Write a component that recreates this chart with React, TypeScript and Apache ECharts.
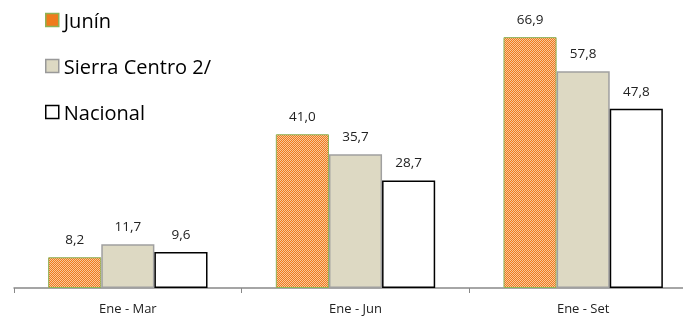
import React, { useEffect, useRef } from "react";
import * as echarts from "echarts";

const categories = ["Ene - Mar", "Ene - Jun", "Ene - Set"];
const junin = [8.2, 41.0, 66.9];
const sierra = [11.7, 35.7, 57.8];
const nacional = [9.6, 28.7, 47.8];

function makePattern(): string {
  const c = document.createElement("canvas");
  c.width = 2;
  c.height = 2;
  const ctx = c.getContext("2d")!;
  ctx.fillStyle = "#EF7B1C";
  ctx.fillRect(0, 0, 2, 2);
  ctx.fillStyle = "#F9C79C";
  ctx.fillRect(0, 0, 1, 1);
  ctx.fillRect(1, 1, 1, 1);
  return c.toDataURL();
}

const fmt = (p: any) => Number(p.value).toFixed(1).replace(".", ",");

export default function App() {
  const ref = useRef<HTMLDivElement>(null);
  useEffect(() => {
    const chart = echarts.init(ref.current!, null, { renderer: "svg" });
    const pat = { image: makePattern(), repeat: "repeat" } as any;
    const font = "'Open Sans', 'Noto Sans', sans-serif";
    const label = {
      show: true,
      position: "top",
      distance: 11,
      formatter: fmt,
      fontSize: 13.5,
      color: "#222",
      fontFamily: font,
    };
    chart.setOption({
      animation: false,
      textStyle: { fontFamily: font },
      legend: {
        orient: "vertical",
        left: 45,
        top: 10,
        padding: 0,
        itemGap: 26,
        itemWidth: 13,
        itemHeight: 13,
        icon: "rect",
        textStyle: { fontSize: 20, color: "#000", fontFamily: font },
        data: [
          { name: "Junín", itemStyle: { color: "#EF7B1C", borderColor: "#8DB255", borderWidth: 1.5 } },
          { name: "Sierra Centro 2/", itemStyle: { color: "#DDD9C3", borderColor: "#999", borderWidth: 1.5 } },
          { name: "Nacional", itemStyle: { color: "#fff", borderColor: "#000", borderWidth: 1.5 } },
        ],
      },
      grid: { left: 14, right: -14, top: 25.5, bottom: 32, outerBoundsMode: "none", containLabel: false },
      xAxis: {
        type: "category",
        data: categories,
        axisLine: { lineStyle: { color: "#888", width: 1.5 } },
        axisTick: { show: true, length: 5, lineStyle: { color: "#888" } },
        axisLabel: { fontSize: 13, color: "#222", margin: 13, fontFamily: font },
      },
      yAxis: { type: "value", min: 0, max: 70, show: false, splitLine: { show: false } },
      series: [
        {
          name: "Junín",
          type: "bar",
          data: junin,
          barGap: "0%",
          barCategoryGap: "30%",
          itemStyle: { color: pat, borderColor: "#8DB255", borderWidth: 1 },
          label,
        },
        {
          name: "Sierra Centro 2/",
          type: "bar",
          data: sierra,
          itemStyle: { color: "#DDD9C3", borderColor: "#A0A0A0", borderWidth: 1.5 },
          label,
        },
        {
          name: "Nacional",
          type: "bar",
          data: nacional,
          itemStyle: { color: "#fff", borderColor: "#000", borderWidth: 1.5 },
          label,
        },
      ],
    });
    return () => chart.dispose();
  }, []);
  return (
    <div
      ref={ref}
      style={{ position: "fixed", left: 0, top: 0, width: 683, height: 320, overflow: "hidden" }}
    />
  );
}
